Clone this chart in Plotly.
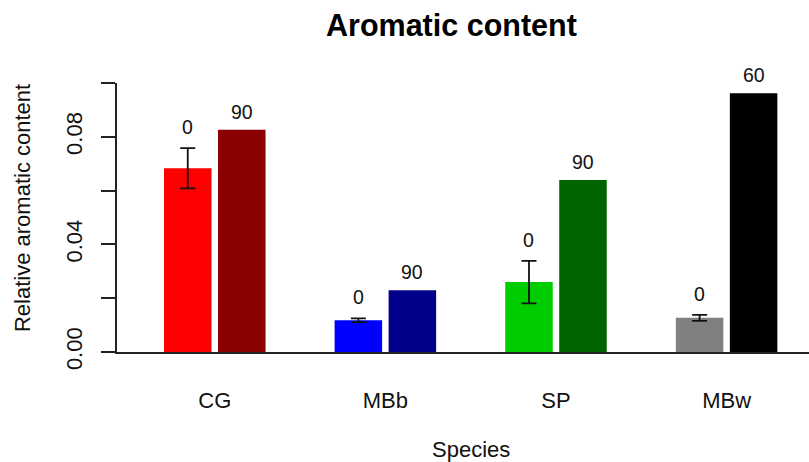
import plotly.graph_objects as go

species = ["CG", "MBb", "SP", "MBw"]
day0 = [0.0683, 0.0118, 0.0260, 0.0127]
day0_se = [0.0075, 0.0007, 0.0079, 0.0011]
dayN = [0.0826, 0.0230, 0.0639, 0.0962]
day0_labels = ["0", "0", "0", "0"]
dayN_labels = ["90", "90", "90", "60"]
colors0 = ["#FF0000", "#0000FF", "#00CD00", "#808080"]
colorsN = ["#8B0000", "#00008B", "#006400", "#000000"]
ytick_vals = [0.0, 0.02, 0.04, 0.06, 0.08, 0.10]
ytick_text = ["0.00", "", "0.04", "", "0.08", ""]

FONT = "Liberation Sans, Arial, sans-serif"
BARGAP = 0.367
BARGROUPGAP = 0.12

xs = list(range(len(species)))

fig = go.Figure()
fig.add_trace(go.Bar(
    x=xs, y=day0, marker=dict(color=colors0, line=dict(width=0)),
    error_y=dict(type="data", array=day0_se, visible=True,
                 color="#111111", thickness=1.8, width=7.5),
    showlegend=False, hoverinfo="skip"))
fig.add_trace(go.Bar(
    x=xs, y=dayN, marker=dict(color=colorsN, line=dict(width=0)),
    showlegend=False, hoverinfo="skip"))

slot = (1 - BARGAP) / 2
for i in xs:
    fig.add_annotation(x=i - slot / 2, y=day0[i] + day0_se[i], text=day0_labels[i],
                       showarrow=False, yanchor="middle", yshift=21,
                       font=dict(family=FONT, size=19.5, color="#111111"))
    fig.add_annotation(x=i + slot / 2, y=dayN[i], text=dayN_labels[i],
                       showarrow=False, yanchor="middle", yshift=18,
                       font=dict(family=FONT, size=19.5, color="#111111"))

# titles
fig.add_annotation(xref="paper", yref="paper", x=0.4827, y=1.216,
                   text="<b>Aromatic content</b>", showarrow=False,
                   xanchor="center", yanchor="middle",
                   font=dict(family=FONT, size=30.5, color="#000000"))
fig.add_annotation(xref="paper", yref="paper", x=0.5116, y=-0.362,
                   text="Species", showarrow=False,
                   xanchor="center", yanchor="middle",
                   font=dict(family=FONT, size=22, color="#111111"))
fig.add_annotation(xref="paper", yref="paper", x=-0.1373, y=0.535,
                   text="Relative aromatic content", showarrow=False,
                   textangle=-90, xanchor="center", yanchor="middle",
                   font=dict(family=FONT, size=22, color="#111111"))

fig.update_layout(
    width=809, height=462,
    margin=dict(l=117, r=0, t=83, b=110.3, pad=0),
    paper_bgcolor="white", plot_bgcolor="white",
    barmode="group", bargap=BARGAP, bargroupgap=BARGROUPGAP,
    xaxis=dict(range=[-0.573, 3.483], tickmode="array", tickvals=xs,
               ticktext=species, ticks="", showgrid=False, zeroline=False,
               showline=True, linecolor="#222222", linewidth=1.6,
               tickfont=dict(family=FONT, size=22, color="#111111"),
               ticklabelstandoff=28),
    yaxis=dict(range=[0, 0.1], tickmode="array", tickvals=ytick_vals,
               ticktext=ytick_text, ticks="outside", ticklen=14, tickwidth=1.6,
               tickcolor="#222222", tickangle=-90, showgrid=False,
               zeroline=False, showline=True, linecolor="#222222", linewidth=1.6,
               tickfont=dict(family=FONT, size=22, color="#111111"),
               ticklabelstandoff=10),
)

fig.write_html("out.html")
